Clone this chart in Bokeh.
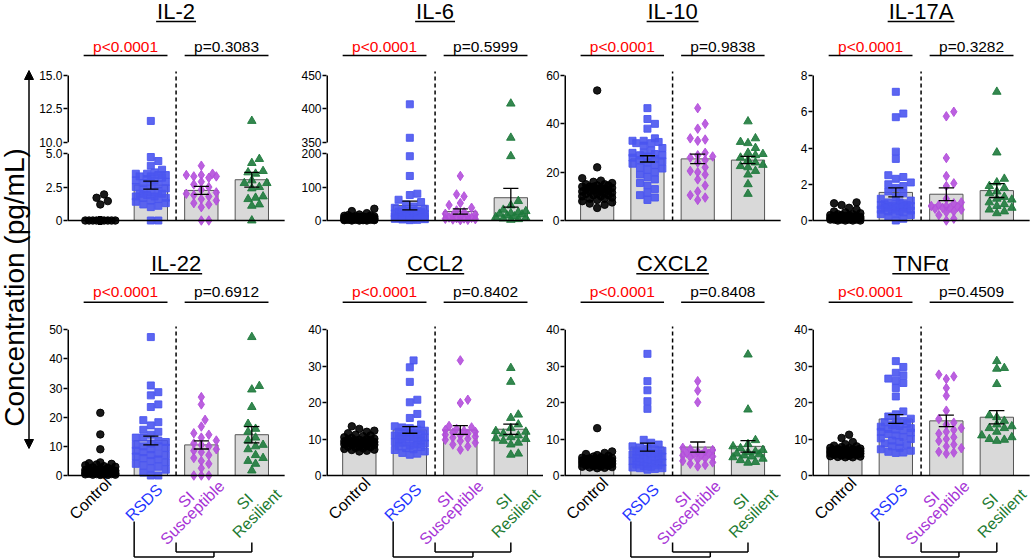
import math
from bokeh.plotting import figure
from bokeh.models import Range1d, LinearAxis, FixedTicker, Arrow, NormalHead
from bokeh.layouts import row, column
from bokeh.embed import file_html
from bokeh.resources import INLINE
from bokeh.core.properties import value

FONT = "Liberation Sans"

# ---------------- data ----------------
GROUPS = ["Control", "RSDS", "SI Susceptible", "SI Resilient"]
CYTOKINES = ["IL-2", "IL-6", "IL-10", "IL-17A", "IL-22", "CCL2", "CXCL2", "TNFα"]
P_LEFT = ["p<0.0001", "p<0.0001", "p<0.0001", "p<0.0001", "p<0.0001", "p<0.0001", "p<0.0001", "p<0.0001"]
P_RIGHT = ["p=0.3083", "p=0.5999", "p=0.9838", "p=0.3282", "p=0.6912", "p=0.8402", "p=0.8408", "p=0.4509"]

il2_ctrl = [0, 0, 0, 0, 0, 0, 0, 0, 0, 0, 0, 0, 0, 0, 0, 0, 0, 0, 0, 0, 0, 0, 0, 0, 0, 0, 0, 0, 0, 0, 0, 0, 0, 0, 0, 0, 1.2, 1.45, 1.7, 1.95]
il2_rsds = [11.6, 4.75, 4.45, 4.1, 3.8, 3.6, 3.5, 3.5, 3.4, 3.4, 3.3, 3.3, 3.2, 3.1, 3.0, 3.0, 2.9, 2.8, 2.7, 2.6, 2.5, 2.4, 2.3, 2.2, 2.1, 2.0, 2.0, 1.9, 1.8, 1.8, 1.7, 1.7, 1.6, 1.5, 1.4, 1.3, 1.2, 1.1, 1.0, 0.0, 0.0]
il2_sus = [4.1, 3.5, 3.4, 3.4, 3.3, 3.3, 3.2, 2.9, 2.7, 2.5, 2.3, 2.1, 2.0, 1.9, 1.8, 1.6, 1.5, 1.3, 1.2, 1.0, 0.0, 0.0]
il2_res = [11.6, 4.6, 4.3, 3.7, 3.6, 3.5, 3.0, 2.8, 2.8, 2.5, 2.4, 1.8, 1.7, 1.6, 1.2, 1.1, 0.0]
il2_mean = [0.15, 2.65, 2.25, 3.05]
il2_sem = [0.07, 0.3, 0.3, 0.55]

il6_ctrl = [35, 28, 22, 18, 16, 15, 14, 13, 12, 12, 11, 10, 10, 9, 9, 8, 8, 7, 7, 6, 6, 6, 5, 5, 5, 4, 4, 4, 3, 3, 3, 2, 2, 2, 1, 1, 1, 0, 0, 0]
il6_rsds = [407, 357, 192, 133, 80, 76, 62, 55, 48, 42, 38, 35, 32, 30, 28, 26, 25, 24, 22, 21, 20, 19, 18, 17, 16, 15, 14, 13, 12, 11, 10, 10, 9, 8, 8, 7, 6, 5, 4, 3, 2, 1]
il6_sus = [133, 78, 72, 52, 46, 38, 30, 25, 20, 18, 15, 12, 10, 9, 8, 7, 6, 5, 4, 3, 2, 1]
il6_res = [408, 357, 192, 58, 45, 32, 28, 25, 22, 20, 18, 15, 12, 10, 8, 6, 4, 2]
il6_mean = [8, 45, 27, 68]
il6_sem = [1.5, 13, 8, 28]

il10_ctrl = [53.8, 22, 17.5, 16.5, 16, 15.5, 15, 15, 14.5, 14.5, 14, 14, 14, 13.5, 13.5, 13, 13, 13, 12.5, 12.5, 12, 12, 12, 11.5, 11.5, 11, 11, 10.5, 10.5, 10, 10, 9.5, 9, 9, 8.5, 8, 7.5, 7, 6.5, 5.2]
il10_rsds = [46.5, 42, 40, 38, 34, 33, 33, 32.5, 32, 32, 31, 30, 29, 28, 28, 27.5, 27, 27, 26.5, 26, 25.5, 25, 24.5, 24, 23.5, 23, 22, 21.5, 21, 20, 19, 18, 17, 15.5, 14.5, 13, 11.5, 10.5, 9.5, 8.5]
il10_sus = [46.5, 40, 38, 34, 33.5, 33, 28, 27, 26.5, 26, 25, 24, 22, 20.5, 20, 19, 17, 14.5, 12, 10.5, 9.5, 8.5]
il10_res = [41, 34, 32.5, 32, 30, 28, 27.5, 27, 26, 25, 24, 23, 22.5, 22, 20.5, 19, 15, 11]
il10_mean = [13.5, 25.5, 25.5, 25.0]
il10_sem = [1.0, 1.3, 2.0, 1.5]

il17_ctrl = [1.0, 0.95, 0.85, 0.7, 0.6, 0.5, 0.45, 0.4, 0.35, 0.35, 0.3, 0.3, 0.3, 0.25, 0.25, 0.25, 0.2, 0.2, 0.2, 0.2, 0.2, 0.15, 0.15, 0.15, 0.15, 0.1, 0.1, 0.1, 0.1, 0.1, 0.1, 0.05, 0.05, 0.05, 0.05, 0.05, 0.0, 0.0, 0.0, 0.0]
il17_rsds = [7.1, 5.9, 5.7, 3.8, 3.4, 2.5, 2.4, 2.3, 2.1, 2.0, 1.9, 1.8, 1.6, 1.5, 1.3, 1.2, 1.1, 1.0, 1.0, 0.95, 0.9, 0.9, 0.85, 0.85, 0.8, 0.8, 0.8, 0.75, 0.75, 0.7, 0.7, 0.65, 0.6, 0.6, 0.55, 0.5, 0.5, 0.45, 0.4, 0.35, 0.3, 0.2, 0.1, 0.0]
il17_sus = [6.0, 5.75, 3.45, 2.45, 2.05, 1.9, 1.2, 1.0, 0.95, 0.85, 0.8, 0.8, 0.75, 0.7, 0.7, 0.65, 0.6, 0.5, 0.45, 0.3, 0.1, 0.0]
il17_res = [7.1, 3.75, 2.3, 2.1, 1.9, 1.8, 1.6, 1.5, 1.3, 1.2, 1.15, 1.0, 0.9, 0.8, 0.7, 0.6, 0.5, 0.4]
il17_mean = [0.22, 1.55, 1.45, 1.65]
il17_sem = [0.04, 0.25, 0.35, 0.38]

il22_ctrl = [21.5, 14.1, 9.0, 4.5, 4.2, 4.0, 3.8, 3.5, 3.2, 3.0, 2.8, 2.6, 2.4, 2.2, 2.0, 1.9, 1.8, 1.7, 1.6, 1.5, 1.4, 1.3, 1.2, 1.1, 1.0, 1.0, 0.9, 0.8, 0.8, 0.7, 0.6, 0.6, 0.5, 0.5, 0.4, 0.4, 0.3, 0.3, 0.2, 0.2]
il22_rsds = [47.5, 30.9, 28.6, 27.5, 24.4, 23.5, 19.0, 18.3, 17.2, 15.7, 15.0, 14.0, 13.0, 13.0, 12.0, 11.5, 11.0, 10.5, 10.0, 10.0, 9.5, 9.0, 8.5, 8.0, 7.5, 7.0, 7.0, 6.5, 6.0, 5.5, 5.0, 4.5, 4.0, 3.5, 3.0, 2.5, 2.0, 1.0, 0.0, 0.0]
il22_sus = [26.9, 24.4, 19.1, 16.8, 14.5, 14.0, 13.0, 12.0, 11.0, 10.5, 10.0, 9.0, 8.5, 8.0, 7.0, 6.0, 5.0, 4.0, 2.5, 0.0, 0.0, 0.0]
il22_res = [47.5, 30.7, 29.5, 23.5, 17.7, 16.0, 15.0, 13.0, 12.0, 10.5, 10.0, 9.0, 7.0, 6.0, 5.0, 4.0, 1.7]
il22_mean = [2.5, 12.0, 10.5, 14.0]
il22_sem = [0.65, 1.5, 1.4, 2.8]

ccl2_ctrl = [13.5, 12.8, 12.3, 12.0, 11.6, 11.2, 11.0, 10.8, 10.5, 10.3, 10.1, 10.0, 9.9, 9.8, 9.7, 9.6, 9.5, 9.4, 9.3, 9.2, 9.1, 9.0, 9.0, 8.9, 8.8, 8.7, 8.6, 8.5, 8.4, 8.2, 8.0, 7.9, 7.8, 7.6, 7.5, 7.3, 7.1, 7.0, 6.8, 6.6]
ccl2_rsds = [31.6, 29.7, 25.7, 20.8, 20.1, 16.9, 15.8, 14.0, 13.5, 13.2, 13.0, 12.6, 12.3, 12.0, 11.8, 11.5, 11.2, 11.0, 10.8, 10.6, 10.4, 10.2, 10.0, 9.8, 9.6, 9.4, 9.2, 9.0, 8.8, 8.5, 8.2, 8.0, 7.8, 7.5, 7.2, 7.0, 6.6, 6.2, 6.0, 5.7]
ccl2_sus = [31.6, 20.8, 19.9, 13.6, 13.2, 12.8, 12.5, 12.3, 12.0, 11.8, 11.5, 11.2, 11.0, 10.7, 10.4, 10.1, 9.8, 9.5, 9.0, 8.5, 8.0, 7.1]
ccl2_res = [29.5, 25.7, 16.7, 15.8, 14.0, 13.0, 12.2, 12.0, 11.5, 11.0, 10.5, 10.2, 10.0, 9.5, 9.0, 8.5, 6.0, 5.7]
ccl2_mean = [9.5, 12.5, 12.5, 12.7]
ccl2_sem = [0.3, 0.9, 1.2, 1.4]

cxcl2_ctrl = [13.0, 6.6, 6.2, 5.9, 5.6, 5.4, 5.2, 5.0, 4.9, 4.8, 4.7, 4.6, 4.5, 4.5, 4.4, 4.3, 4.2, 4.1, 4.0, 4.0, 3.9, 3.8, 3.7, 3.6, 3.5, 3.4, 3.3, 3.2, 3.1, 3.0, 2.9, 2.8, 2.7, 2.6, 2.5, 2.4, 2.3, 2.2, 2.1, 2.0]
cxcl2_rsds = [33.4, 25.9, 23.4, 20.4, 18.3, 9.8, 9.0, 8.5, 8.0, 7.7, 7.4, 7.1, 6.8, 6.6, 6.4, 6.2, 6.0, 5.8, 5.6, 5.4, 5.2, 5.0, 4.8, 4.6, 4.4, 4.2, 4.0, 3.8, 3.6, 3.4, 3.2, 3.0, 2.8, 2.6, 2.4, 2.2, 2.0, 2.0, 1.8, 1.6]
cxcl2_sus = [25.9, 23.3, 20.1, 7.6, 7.2, 7.0, 6.7, 6.5, 6.2, 6.0, 5.9, 5.7, 5.5, 5.2, 5.0, 4.7, 4.4, 4.0, 3.6, 3.2, 2.9, 2.5]
cxcl2_res = [33.2, 18.1, 9.7, 8.6, 8.0, 7.5, 7.0, 6.6, 6.4, 6.0, 5.8, 5.5, 5.2, 5.0, 4.6, 4.2, 3.7, 3.5]
cxcl2_mean = [4.2, 7.8, 7.8, 8.0]
cxcl2_sem = [0.3, 1.1, 1.4, 1.6]

tnf_ctrl = [11.2, 10.3, 9.2, 8.6, 8.2, 8.0, 7.8, 7.6, 7.5, 7.4, 7.3, 7.2, 7.1, 7.0, 7.0, 6.9, 6.8, 6.8, 6.7, 6.6, 6.5, 6.5, 6.4, 6.3, 6.2, 6.2, 6.1, 6.0, 6.0, 5.9, 5.8, 5.7, 5.6, 5.5, 5.4, 5.3, 5.2, 5.1, 5.0, 5.0]
tnf_rsds = [31.4, 29.8, 28.2, 27.5, 26.6, 26.0, 25.4, 24.0, 21.7, 17.6, 16.8, 16.2, 15.6, 15.0, 14.6, 14.2, 13.8, 13.4, 13.0, 12.8, 12.4, 12.0, 11.8, 11.4, 11.0, 10.6, 10.2, 10.0, 9.6, 9.2, 8.8, 8.4, 8.0, 7.6, 7.2, 6.8, 6.5, 6.3, 6.2, 13.6, 14.8, 12.6]
tnf_sus = [27.7, 27.2, 26.5, 24.0, 21.9, 17.8, 15.5, 14.5, 14.0, 13.0, 12.5, 12.0, 11.5, 10.5, 10.0, 9.5, 8.5, 8.0, 7.5, 6.5, 6.0, 6.3]
tnf_res = [31.4, 29.3, 29.5, 25.1, 16.5, 16.0, 15.0, 14.0, 13.5, 13.0, 13.0, 12.0, 11.0, 10.5, 10.0, 9.5, 9.8]
tnf_mean = [6.8, 15.5, 15.0, 16.0]
tnf_sem = [0.25, 1.2, 1.6, 1.8]

# y-axis ticks and broken-axis definitions (lo_top, hi_bottom, gap, upper_scale)
il2_ticks = [0, 2.5, 5.0, 10.0, 12.5, 15.0]
il2_labels = ["0", "2.5", "5.0", "10.0", "12.5", "15.0"]
il6_ticks = [0, 100, 200, 350, 400, 450]
il6_labels = ["0", "100", "200", "350", "400", "450"]
il10_ticks = [0, 20, 40, 60]
il17_ticks = [0, 2, 4, 6, 8]
il22_ticks = [0, 10, 20, 30, 40, 50]
t40_ticks = [0, 10, 20, 30, 40]

PANELS = [
    dict(name="IL-2", groups=[il2_ctrl, il2_rsds, il2_sus, il2_res], mean=il2_mean, sem=il2_sem,
         ticks=il2_ticks, labels=il2_labels, brk=(5.0, 10.0, 0.85, 1.0)),
    dict(name="IL-6", groups=[il6_ctrl, il6_rsds, il6_sus, il6_res], mean=il6_mean, sem=il6_sem,
         ticks=il6_ticks, labels=il6_labels, brk=(200.0, 350.0, 33.0, 2.0)),
    dict(name="IL-10", groups=[il10_ctrl, il10_rsds, il10_sus, il10_res], mean=il10_mean, sem=il10_sem,
         ticks=il10_ticks, labels=None, brk=None),
    dict(name="IL-17A", groups=[il17_ctrl, il17_rsds, il17_sus, il17_res], mean=il17_mean, sem=il17_sem,
         ticks=il17_ticks, labels=None, brk=None),
    dict(name="IL-22", groups=[il22_ctrl, il22_rsds, il22_sus, il22_res], mean=il22_mean, sem=il22_sem,
         ticks=il22_ticks, labels=None, brk=None),
    dict(name="CCL2", groups=[ccl2_ctrl, ccl2_rsds, ccl2_sus, ccl2_res], mean=ccl2_mean, sem=ccl2_sem,
         ticks=t40_ticks, labels=None, brk=None),
    dict(name="CXCL2", groups=[cxcl2_ctrl, cxcl2_rsds, cxcl2_sus, cxcl2_res], mean=cxcl2_mean, sem=cxcl2_sem,
         ticks=t40_ticks, labels=None, brk=None),
    dict(name="TNFα", groups=[tnf_ctrl, tnf_rsds, tnf_sus, tnf_res], mean=tnf_mean, sem=tnf_sem,
         ticks=t40_ticks, labels=None, brk=None),
]

# ---------------- styling / layout ----------------
MARKERS = ["circle", "square", "diamond", "triangle"]
MSIZE = [7.5, 7, 9.5, 8.5]
MCOLOR = ["#000000", "#4a55f0", "#b44fdc", "#1e7a3c"]
LCOLOR = ["#000000", "#2233ff", "#a633d6", "#1c7a30"]
UNIT = 50.5                       # px per category
COL_L = [32, 41, 20, 29]          # left border (axis) width per column
COL_F = [218, 217, 220, 219]      # frame width per column
YLAB_W = 35
TOP = dict(H=238, zero=220.0, atop=75.0, title_c=11.0, underline=21.0, p_c=45.5, p_line=55.0,
           dash_top=71.0, labels=False)
BOT = dict(H=321, zero=237.0, atop=91.3, title_c=25.0, underline=35.3, p_c=53.0, p_line=63.7,
           dash_top=88.0, labels=True)
TOT_H = TOP["H"] + BOT["H"]
# category label placement: (group, text, dx px, dy px below baseline) for the label centres
LABEL_ITEMS = [(0, "Control", -10, 23), (1, "RSDS", -7, 27),
               (2, "SI", -15, 24), (2, "Susceptible", -9, 37),
               (3, "SI", -7, 26), (3, "Resilient", 5, 38)]

ARIAL_W = {"I": 0.278, "L": 0.556, "-": 0.333, "A": 0.667, "C": 0.722, "X": 0.667, "T": 0.611,
           "N": 0.722, "F": 0.611, "α": 0.58}


def text_w(s, size):
    return sum(ARIAL_W.get(c, 0.556) for c in s) * size


def disp(v, brk):
    if brk is None:
        return v
    lo_top, hi_bot, gap, k = brk
    return v if v <= lo_top else lo_top + gap + (v - hi_bot) * k


def swarm(ypx, d=7.5, step=3.75, maxk=4):
    cands = [0.0]
    for k in range(1, maxk + 1):
        cands += [k * step, -k * step]
    order = sorted(range(len(ypx)), key=lambda i: ypx[i])
    placed = []
    offs = [0.0] * len(ypx)
    for i in order:
        y = ypx[i]
        best, bestd = 0.0, -1.0
        for c in cands:
            md = min([math.hypot(c - px, y - py) for px, py in placed if abs(py - y) < d] or [1e9])
            if md >= d * 0.95:
                best = c
                break
            if md > bestd:
                bestd, best = md, c
        offs[i] = best
        placed.append((best, y))
    return offs


def make_panel(spec, col, cfg, p_left, p_right):
    L, F, H = COL_L[col], COL_F[col], cfg["H"]
    brk = spec["brk"]
    dtop = disp(spec["ticks"][-1], brk)
    s = (cfg["zero"] - cfg["atop"]) / dtop

    def py2d(py):
        return (cfg["zero"] - py) / s

    x0 = -0.65
    x1 = x0 + F / UNIT
    p = figure(width=L + F, height=H, x_range=Range1d(x0, x1), y_range=Range1d(py2d(H), py2d(0)),
               x_axis_location=None, y_axis_location=None, toolbar_location=None,
               output_backend="svg", min_border=0, min_border_left=L, outline_line_color=None,
               background_fill_color="white", border_fill_color="white")
    p.grid.visible = False

    ticks_d = [disp(t, brk) for t in spec["ticks"]]
    labs = spec["labels"] or [str(t) for t in spec["ticks"]]
    ax = LinearAxis(bounds=(0, dtop), ticker=FixedTicker(ticks=ticks_d, minor_ticks=[]),
                    major_label_overrides={float(d): l for d, l in zip(ticks_d, labs)})
    ax.axis_line_color = None
    ax.major_tick_out = 4
    ax.major_tick_in = 0
    ax.minor_tick_out = 0
    ax.minor_tick_in = 0
    ax.major_tick_line_width = 1.5
    ax.major_tick_line_color = "black"
    ax.major_label_standoff = 1
    ax.major_label_text_font = FONT
    ax.major_label_text_font_size = "12px"
    ax.major_label_text_color = "black"
    p.add_layout(ax, "left")

    # axis line (drawn in two parts for the broken axes); half is clipped by the frame edge
    if brk is None:
        seg = [(0, dtop)]
    else:
        seg = [(0, brk[0]), (disp(brk[1], brk), dtop)]
    p.segment(x0=[x0] * len(seg), y0=[a for a, b in seg], x1=[x0] * len(seg), y1=[b for a, b in seg],
              line_color="black", line_width=3)

    xs = [0, 1, 2, 3]
    means_d = [disp(m, brk) for m in spec["mean"]]
    p.vbar(x=xs, top=means_d, bottom=0, width=0.66, fill_color="#d9d9d9",
           line_color="#555555", line_width=1)

    for g, vals in enumerate(spec["groups"]):
        yd = [disp(v, brk) for v in vals]
        offs = swarm([y * s for y in yd])
        gx = [g + o / UNIT for o in offs]
        p.scatter(x=gx, y=yd, marker=MARKERS[g], size=MSIZE[g], fill_color=MCOLOR[g],
                  line_color=MCOLOR[g], fill_alpha=0.9, line_alpha=0.9)

    lo = [disp(m - e, brk) for m, e in zip(spec["mean"], spec["sem"])]
    hi = [disp(m + e, brk) for m, e in zip(spec["mean"], spec["sem"])]
    p.segment(x0=xs, y0=lo, x1=xs, y1=hi, line_color="black", line_width=1.3)
    p.segment(x0=[x - 0.15 for x in xs], y0=hi, x1=[x + 0.15 for x in xs], y1=hi,
              line_color="black", line_width=1.3)
    p.segment(x0=[x - 0.15 for x in xs], y0=lo, x1=[x + 0.15 for x in xs], y1=lo,
              line_color="black", line_width=1.3)

    # baseline and dashed separator
    p.segment(x0=[x0], y0=[0], x1=[3.65], y1=[0], line_color="black", line_width=1.5)
    p.segment(x0=[1.5], y0=[0], x1=[1.5], y1=[py2d(cfg["dash_top"])], line_color="black",
              line_width=1.5, line_dash="4 3")

    # title with underline
    p.text(x=[1.5], y=[py2d(cfg["title_c"])], text=[spec["name"]], text_font=value(FONT),
           text_font_size="22px", text_align="center", text_baseline="middle", text_color="black")
    hw = (text_w(spec["name"], 22) / 2 + 1) / UNIT
    p.segment(x0=[1.5 - hw], y0=[py2d(cfg["underline"])], x1=[1.5 + hw], y1=[py2d(cfg["underline"])],
              line_color="black", line_width=1.5)

    # p-values
    p.text(x=[0.5, 2.5], y=[py2d(cfg["p_c"])] * 2, text=[p_left, p_right],
           text_color=["#ff0000", "#000000"], text_font=value(FONT), text_font_size="15.5px",
           text_align="center", text_baseline="middle")
    yl = py2d(cfg["p_line"])
    p.segment(x0=[-0.33, 1.67], y0=[yl, yl], x1=[1.33, 3.33], y1=[yl, yl],
              line_color="black", line_width=1.5)

    if cfg["labels"]:
        z = cfg["zero"]
        for g, t, dx, dy in LABEL_ITEMS:
            p.text(x=[g + dx / UNIT], y=[py2d(z + dy)], text=[t], angle=math.pi / 4,
                   text_font=value(FONT), text_font_size="16px", text_align="center",
                   text_baseline="middle", text_color=LCOLOR[g])
        # comparison brackets
        y_top = py2d(z + 46)
        y_bot = py2d(z + 81.5)
        y_in = py2d(z + 76.5)
        y_in_top = py2d(z + 67)
        bx0 = [0.67, 0.67, 2.25, 1.5, 1.5, 3.0]
        by0 = [y_top, y_bot, y_bot, y_in, y_in_top, y_in_top]
        bx1 = [0.67, 2.25, 2.25, 3.0, 1.5, 3.0]
        by1 = [y_bot, y_bot, y_in, y_in, y_in, y_in]
        p.segment(x0=bx0, y0=by0, x1=bx1, y1=by1, line_color="black", line_width=1.5)
    return p


top_figs = [make_panel(PANELS[i], i, TOP, P_LEFT[i], P_RIGHT[i]) for i in range(4)]
bot_figs = [make_panel(PANELS[4 + i], i, BOT, P_LEFT[4 + i], P_RIGHT[4 + i]) for i in range(4)]

# y-axis label with double arrow
ylab = figure(width=YLAB_W, height=TOT_H, x_range=Range1d(0, YLAB_W), y_range=Range1d(0, TOT_H),
              x_axis_location=None, y_axis_location=None, toolbar_location=None,
              output_backend="svg", min_border=0, outline_line_color=None)
ylab.grid.visible = False
ylab.text(x=[14], y=[TOT_H - 287], text=["Concentration (pg/mL)"], angle=math.pi / 2,
          text_font=value(FONT), text_font_size="28px", text_align="center",
          text_baseline="middle", text_color="black")
ylab.add_layout(Arrow(start=NormalHead(size=9, fill_color="black", line_color="black"),
                      end=NormalHead(size=9, fill_color="black", line_color="black"),
                      x_start=28.5, y_start=TOT_H - 70, x_end=28.5, y_end=TOT_H - 448,
                      line_width=1.5, line_color="black"))

layout = row(ylab, column(row(*top_figs), row(*bot_figs)))
open("out.html", "w").write(file_html(layout, INLINE))
